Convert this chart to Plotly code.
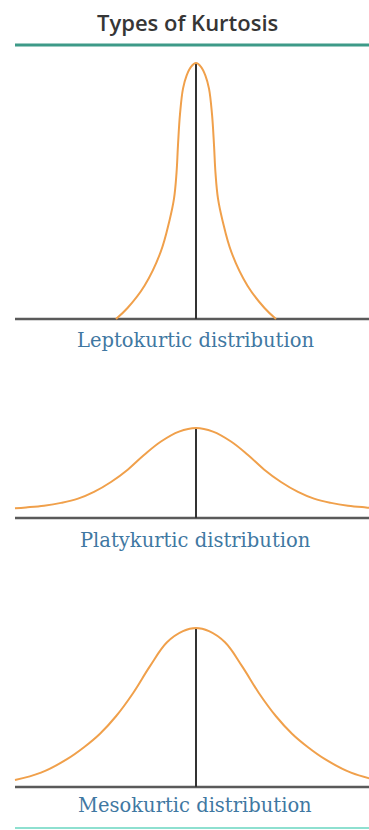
import plotly.graph_objects as go

# Curve profiles: x in arbitrary units (centre = 0), height relative to each peak
lepto_x = [-8.0, -6.85, -5.15, -3.55, -2.65, -2.2, -1.95, -1.8, -1.6, -1.3, -0.95, -0.5, 0.0,
           0.5, 0.95, 1.3, 1.6, 1.8, 1.95, 2.2, 2.65, 3.55, 5.15, 6.85, 8.0]
lepto_y = [0.0, 0.043, 0.13, 0.26, 0.385, 0.47, 0.57, 0.68, 0.80, 0.90, 0.95, 0.985, 1.0,
           0.985, 0.95, 0.90, 0.80, 0.68, 0.57, 0.47, 0.385, 0.26, 0.13, 0.043, 0.0]

platy_x = [-18.1, -17.0, -15.2, -13.5, -11.8, -10.2, -8.5, -6.8, -5.2, -3.5, -1.7, 0.0,
           1.7, 3.5, 5.2, 6.8, 8.5, 10.2, 11.8, 13.5, 15.2, 17.0, 18.1]
platy_y = [0.107, 0.117, 0.137, 0.168, 0.215, 0.29, 0.40, 0.54, 0.70, 0.85, 0.96, 1.0,
           0.96, 0.85, 0.70, 0.54, 0.40, 0.29, 0.215, 0.168, 0.137, 0.117, 0.107]

meso_x = [-18.1, -15.5, -12.9, -11.2, -9.6, -8.0, -6.3, -4.6, -2.9, -1.3, 0.0,
          1.3, 2.9, 4.6, 6.3, 8.0, 9.6, 11.2, 12.9, 15.5, 18.1]
meso_y = [0.044, 0.09, 0.175, 0.25, 0.335, 0.445, 0.59, 0.76, 0.91, 0.98, 1.0,
          0.98, 0.91, 0.76, 0.59, 0.445, 0.335, 0.25, 0.175, 0.09, 0.044]

labels = ["Leptokurtic distribution", "Platykurtic distribution", "Mesokurtic distribution"]
title_text = "Types of Kurtosis"

W, H = 369, 830
X_RANGE = [-19.6, 17.3]
AXIS_LEFT = -18.1

# (baseline px, peak px, label centre px) for each panel, measured from the top
panels = [(319, 63, 340), (518, 428, 540), (787, 628, 805)]
curves = [(lepto_x, lepto_y), (platy_x, platy_y), (meso_x, meso_y)]

ORANGE = "#f0a04b"
BASE_GRAY = "#5a5a5a"
STEM = "#333333"
LABEL_BLUE = "#3f78a2"

fig = go.Figure()
layout_axes = {}
PAD = 0.06

for i, ((base, peak, lab_y), (cx, cy)) in enumerate(zip(panels, curves)):
    name = "y" if i == 0 else f"y{i + 1}"
    key = "yaxis" if i == 0 else f"yaxis{i + 1}"
    s = base - peak
    top_px = peak - PAD * s
    bot_px = base + PAD * s
    layout_axes[key] = dict(
        domain=[1 - bot_px / H, 1 - top_px / H],
        range=[-PAD, 1 + PAD],
        visible=False, showgrid=False, zeroline=False, anchor="x",
        fixedrange=True,
    )
    # horizontal baseline
    fig.add_trace(go.Scatter(x=[AXIS_LEFT, X_RANGE[1] + 1], y=[0, 0], mode="lines",
                             line=dict(color=BASE_GRAY, width=2.5),
                             xaxis="x", yaxis=name, hoverinfo="skip"))
    # central stem
    fig.add_trace(go.Scatter(x=[0, 0], y=[0, 1], mode="lines",
                             line=dict(color=STEM, width=2),
                             xaxis="x", yaxis=name, hoverinfo="skip"))
    # distribution curve
    fig.add_trace(go.Scatter(x=cx, y=cy, mode="lines",
                             line=dict(color=ORANGE, width=2, shape="spline", smoothing=1.1),
                             xaxis="x", yaxis=name, hoverinfo="skip"))
    fig.add_annotation(x=-0.1, y=1 - lab_y / H, xref="x", yref="paper",
                       text=labels[i], showarrow=False, xanchor="center", yanchor="middle",
                       font=dict(family="DejaVu Serif", size=19.5, color=LABEL_BLUE))

fig.add_annotation(x=187 / W, y=1 - 22 / H, xref="paper", yref="paper",
                   text=title_text, showarrow=False, xanchor="center", yanchor="middle",
                   font=dict(family="Open Sans", size=22, color="#363636", weight=600))

# rule under the title and along the bottom edge
fig.add_shape(type="line", xref="paper", yref="paper",
              x0=15 / W, x1=1, y0=1 - 45 / H, y1=1 - 45 / H,
              line=dict(color="#3d9a88", width=3))
fig.add_shape(type="line", xref="paper", yref="paper",
              x0=15 / W, x1=1, y0=1 - 828 / H, y1=1 - 828 / H,
              line=dict(color="#8ee0d0", width=2))

fig.update_layout(
    width=W, height=H,
    margin=dict(l=0, r=0, t=0, b=0),
    paper_bgcolor="white", plot_bgcolor="white",
    showlegend=False,
    xaxis=dict(range=X_RANGE, visible=False, showgrid=False, zeroline=False,
               domain=[0, 1], fixedrange=True),
    **layout_axes,
)

fig.write_html("out.html", config={"displayModeBar": False})
